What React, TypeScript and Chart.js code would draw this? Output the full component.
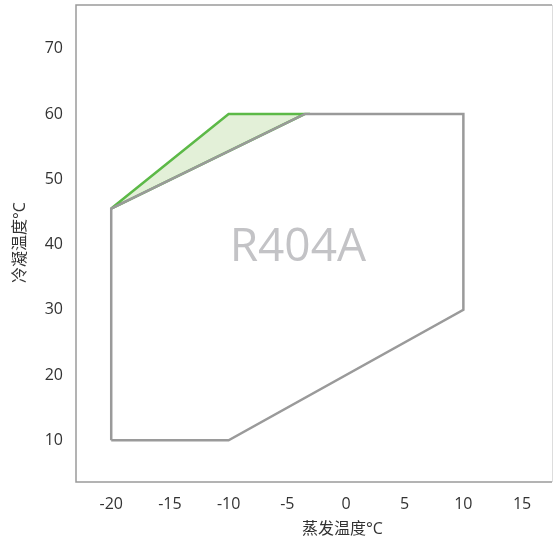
import React, { useEffect, useRef } from "react";
import { Chart, registerables } from "chart.js";

Chart.register(...registerables);

const envelopeX = [-20, -10, 10, 10, -3.5, -20, -20];
const envelopeY = [10, 10, 30, 60, 60, 45.5, 10];
const greenX = [-20, -10, -3.5, -20];
const greenY = [45.5, 60, 60, 45.5];
const xTicks = [-20, -15, -10, -5, 0, 5, 10, 15];
const yTicks = [10, 20, 30, 40, 50, 60, 70];
const refrigerant = "R404A";
const xTitle = "蒸发温度°C";
const yTitle = "冷凝温度°C";
const labelPos = { x: -4.1, y: 39.5 };

const FONT = "'Open Sans', 'Noto Sans CJK SC', sans-serif";

export default function App() {
  const ref = useRef<HTMLCanvasElement | null>(null);
  useEffect(() => {
    document.body.style.margin = "0";
    const ctx = ref.current!;
    const framePlugin = {
      id: "frame",
      beforeDatasetsDraw(chart: any) {
        const { ctx, scales } = chart;
        ctx.save();
        ctx.fillStyle = "#c3c3c6";
        ctx.font = `46px ${FONT}`;
        ctx.textAlign = "center";
        ctx.textBaseline = "middle";
        ctx.fillText(
          refrigerant,
          scales.x.getPixelForValue(labelPos.x),
          scales.y.getPixelForValue(labelPos.y)
        );
        ctx.restore();
      },
      afterDraw(chart: any) {
        const { ctx, chartArea: a, scales } = chart;
        ctx.save();
        ctx.strokeStyle = "#dddddd";
        ctx.lineWidth = 1;
        ctx.beginPath();
        ctx.moveTo(a.right + 0.5, a.top);
        ctx.lineTo(a.right + 0.5, a.bottom);
        ctx.stroke();
        ctx.strokeStyle = "#9a9a9a";
        ctx.lineWidth = 1.5;
        ctx.beginPath();
        ctx.moveTo(a.right, a.top);
        ctx.lineTo(a.left, a.top);
        ctx.lineTo(a.left, a.bottom);
        ctx.lineTo(a.right, a.bottom);
        ctx.stroke();
        // axis titles
        ctx.fillStyle = "#333";
        ctx.font = `16px ${FONT}`;
        ctx.textAlign = "center";
        ctx.textBaseline = "middle";
        ctx.fillText(xTitle, scales.x.getPixelForValue(-0.3), a.bottom + 47);
        ctx.translate(20, scales.y.getPixelForValue(40.3));
        ctx.rotate(-Math.PI / 2);
        ctx.fillText(yTitle, 0, 0);
        ctx.restore();
      },
    };
    const chart = new Chart(ctx, {
      type: "scatter",
      data: {
        datasets: [
          {
            data: envelopeX.map((x, i) => ({ x, y: envelopeY[i] })),
            showLine: true,
            borderColor: "#9a9a9a",
            borderWidth: 2.5,
            pointRadius: 0,
            fill: false,
            tension: 0,
          },
          {
            data: greenX.map((x, i) => ({ x, y: greenY[i] })),
            showLine: true,
            borderColor: "#5cb947",
            backgroundColor: "#e3f0d8",
            borderWidth: 2.5,
            pointRadius: 0,
            fill: "shape",
            tension: 0,
          },
        ],
      },
      options: {
        animation: false,
        responsive: false,
        layout: { padding: { top: 5, right: 1, left: 0, bottom: 0 } },
        plugins: { legend: { display: false }, tooltip: { enabled: false } },
        scales: {
          x: {
            type: "linear",
            min: -23,
            max: 17.55,
            afterBuildTicks: (s: any) => {
              s.ticks = xTicks.map((v) => ({ value: v }));
            },
            afterFit: (s: any) => {
              s.height = 60;
              s.paddingLeft = 0;
              s.paddingRight = 0;
            },
            grid: { display: false, drawTicks: false },
            border: { display: false },
            ticks: {
              padding: 13,
              color: "#333",
              font: { size: 16, family: FONT },
            },
          },
          y: {
            type: "linear",
            min: 3.6,
            max: 76.7,
            afterBuildTicks: (s: any) => {
              s.ticks = yTicks.map((v) => ({ value: v }));
            },
            afterFit: (s: any) => {
              s.width = 76;
              s.paddingTop = 0;
              s.paddingBottom = 0;
            },
            grid: { display: false, drawTicks: false },
            border: { display: false },
            ticks: {
              padding: 13,
              color: "#333",
              font: { size: 16, family: FONT },
            },
          },
        },
      },
      plugins: [framePlugin],
    });
    return () => chart.destroy();
  }, []);
  return <canvas ref={ref} width={553} height={542} style={{ display: "block" }} />;
}
